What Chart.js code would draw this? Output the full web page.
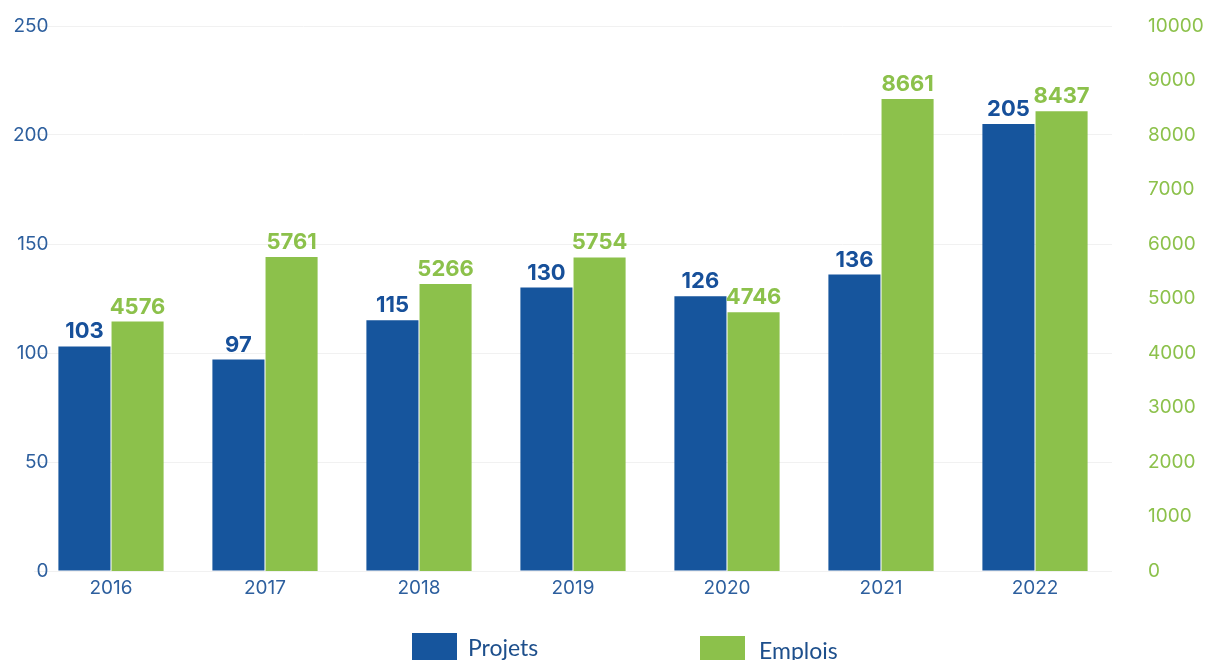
<!DOCTYPE html>
<html>
<head>
<meta charset="utf-8">
<script src="https://cdn.jsdelivr.net/npm/chart.js@4/dist/chart.umd.min.js"></script>
<style>
  body { margin: 0; background: #fff; overflow: hidden; }
  #wrap { position: relative; width: 1214px; height: 660px; }
  .leg { position: absolute; font-family: Lato, "Noto Sans", sans-serif; font-size: 23px; color: #1d4f8c; white-space: nowrap; }
  .leg span { display: inline-block; width: 45px; height: 30px; vertical-align: top; margin-right: 11px; }
</style>
</head>
<body>
<div id="wrap">
  <canvas id="projetsChart" width="1214" height="660"></canvas>
  <div class="leg" style="left:412px; top:633px;"><span style="background:#16559d"></span>Projets</div>
  <div class="leg" style="left:700px; top:636px;"><span style="background:#8cc14b; margin-right:14px"></span>Emplois</div>
</div>
<script>
// data
const years = ['2016', '2017', '2018', '2019', '2020', '2021', '2022'];
const projets = [103, 97, 115, 130, 126, 136, 205];
const emplois = [4576, 5761, 5266, 5754, 4746, 8661, 8437];
const leftTicks = [0, 50, 100, 150, 200, 250];
const rightTicks = [0, 1000, 2000, 3000, 4000, 5000, 6000, 7000, 8000, 9000, 10000];

const blue = '#16559d';
const green = '#8cc14b';

// value labels above each bar
const valueLabels = {
    id: 'valueLabels',
    afterDatasetsDraw(chart) {
        const ctx = chart.ctx;
        ctx.save();
        ctx.font = 'bold 22px Inter, "DejaVu Sans", sans-serif';
        ctx.textAlign = 'center';
        ctx.textBaseline = 'alphabetic';
        chart.data.datasets.forEach((ds, i) => {
            ctx.fillStyle = i === 0 ? '#17509a' : green;
            chart.getDatasetMeta(i).data.forEach((bar, j) => {
                ctx.fillText(ds.data[j], bar.x, bar.y - 8);
            });
        });
        ctx.restore();
    }
};

const ctx = document.getElementById('projetsChart').getContext('2d');
new Chart(ctx, {
    type: 'bar',
    data: {
        labels: years,
        datasets: [{
            label: 'Projets',
            data: projets,
            backgroundColor: blue,
            yAxisID: 'y',
            categoryPercentage: 0.69,
            barPercentage: 0.98,
        }, {
            label: 'Emplois',
            data: emplois,
            backgroundColor: green,
            yAxisID: 'y1',
            categoryPercentage: 0.69,
            barPercentage: 0.98,
        }]
    },
    options: {
        responsive: false,
        animation: false,
        layout: { padding: { top: 26, bottom: 0, left: 0, right: 0 } },
        plugins: {
            legend: { display: false },
            tooltip: { enabled: false },
        },
        scales: {
            x: {
                grid: { display: false },
                border: { display: false },
                ticks: { color: '#2d5f9e', font: { family: 'Inter', size: 19 }, padding: -2 },
                afterFit(scale) { scale.height = 89; }
            },
            y: {
                position: 'left',
                min: 0, max: 250,
                afterBuildTicks(scale) { scale.ticks = leftTicks.map(v => ({ value: v })); },
                grid: { color: '#f1f1f1', drawTicks: false },
                border: { display: false },
                ticks: { color: '#2d5f9e', font: { family: 'Inter', size: 19 }, mirror: true, crossAlign: 'far', padding: -21 },
                afterFit(scale) { scale.width = 34; }
            },
            y1: {
                position: 'right',
                min: 0, max: 10000,
                afterBuildTicks(scale) { scale.ticks = rightTicks.map(v => ({ value: v })); },
                grid: { display: false, drawTicks: true, tickLength: 36 },
                border: { display: false },
                ticks: { color: '#8cc14b', font: { family: 'Inter', size: 19 }, padding: 0, callback: v => String(v) },
                afterFit(scale) { scale.width = 102; }
            }
        }
    },
    plugins: [valueLabels]
});
</script>
</body>
</html>
